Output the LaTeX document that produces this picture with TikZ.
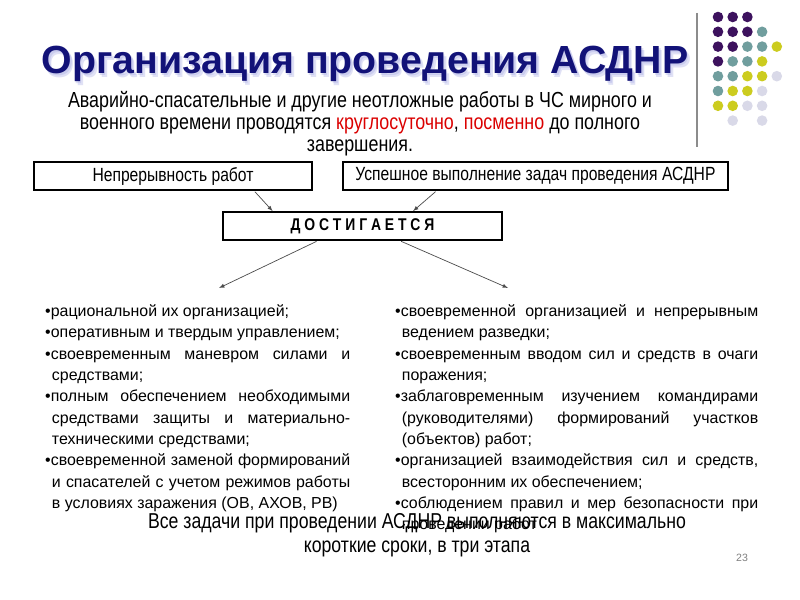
\documentclass[tikz,border=0pt]{standalone}
\usepackage{fontspec}
\setmainfont{Liberation Sans}
\newfontfamily\narrowfont[FakeStretch=0.82]{Liberation Sans}
\usetikzlibrary{arrows,calc}
\tikzset{>=latex}
\definecolor{titleblue}{rgb}{0.07, 0.07, 0.47}
\definecolor{glowblue}{rgb}{0.6, 0.62, 0.88}
\definecolor{alarmred}{rgb}{0.86, 0, 0}
\definecolor{linegray}{rgb}{0.55, 0.55, 0.55}
\definecolor{arrowgray}{rgb}{0.3, 0.3, 0.3}
\definecolor{dotp}{rgb}{0.24, 0.07, 0.37}
\definecolor{dott}{rgb}{0.44, 0.62, 0.62}
\definecolor{doty}{rgb}{0.8, 0.8, 0.12}
\definecolor{dotl}{rgb}{0.85, 0.85, 0.91}
\tikzset{taskbox/.style={draw, line width=1.5pt, inner sep=0pt,
    minimum height=0.84cm, font=\narrowfont\fontsize{16.3}{18}\selectfont}}
\tikzset{bullets/.style={anchor=north west, inner sep=0pt, align=justify,
    font=\fontsize{13.6}{18.2}\selectfont}}
\tikzset{flow/.style={->, arrowgray, line width=0.6pt, shorten <=1pt}}
\newcommand{\itm}{\par\noindent\hangindent=0.42em\hangafter=1 •}

\begin{document}
\begin{tikzpicture}[x=0.03cm, y=-0.03cm]
                \fill[white] (0, 0) rectangle (800, 600);%
                \useasboundingbox (0, 0) rectangle (800, 600);%
                % decoration at the upper right
                \draw[linegray, line width=1.5pt] (697, 13) -- (697, 147);%
                \foreach \r/\row in {0/{p,p,p}, 1/{p,p,p,t}, 2/{p,p,t,t,y}, 3/{p,t,t,y},
                    4/{t,t,y,y,l}, 5/{t,y,y,l}, 6/{y,y,l,l}}
                  \foreach \c [count=\i from 0] in \row
                    \fill[dot\c] (718 + 14.7*\i, 17 + 14.8*\r) circle (5.3);%
                \fill[dotl] (732.7, 120.6) circle (5.3);%
                \fill[dotl] (762.1, 120.6) circle (5.3);%
                % title with its glow
                \foreach \d in {1.5, 3}
                  \node[anchor=base, glowblue, opacity=0.3, font=\bfseries\fontsize{33.5}{38}\selectfont]
                    at (365 + \d, 73.5 + 1.3*\d) {Организация проведения АСДНР};%
                \node (title) [anchor=base, titleblue, font=\bfseries\fontsize{33.5}{38}\selectfont]
                  at (365, 73.5) {Организация проведения АСДНР};%
                \node (lead) [anchor=north, inner sep=0pt, align=center,
                  font=\narrowfont\fontsize{18.6}{18.8}\selectfont] at (360, 91)
                  {Аварийно-спасательные и другие неотложные работы в ЧС мирного и\\
                   военного времени проводятся \textcolor{alarmred}{круглосуточно}, \textcolor{alarmred}{посменно} до полного\\
                   завершения.};%
                % boxes
                \node (cont) [taskbox, minimum width=8.34cm] at (173, 176) {Непрерывность работ};%
                \node (done) [taskbox, minimum width=11.55cm] at (535.5, 176) {Успешное выполнение задач проведения АСДНР};%
                \node (goal) [taskbox, minimum width=8.37cm] at (362.5, 226)
                  {\bfseries\fontsize{14.5}{16}\selectfont Д О С Т И Г А Е Т С Я};%
                \coordinate (lend) at (219, 288);%
                \coordinate (rend) at (508, 288);%
                \draw[flow] ($(cont.south west)!0.79!(cont.south east)$) -- ($(goal.north west)!0.18!(goal.north east)$);%
                \draw[flow] ($(done.south west)!0.244!(done.south east)$) -- ($(goal.north west)!0.68!(goal.north east)$);%
                \draw[flow] ($(goal.south west)!0.34!(goal.south east)$) -- (lend);%
                \draw[flow] ($(goal.south west)!0.634!(goal.south east)$) -- (rend);%
                % the two lists
                \node (left) [bullets, text width=9.15cm] at (45, 295)
                  {\itm рациональной их организацией;
                   \itm оперативным и твердым управлением;
                   \itm своевременным маневром силами и\linebreak средствами;
                   \itm полным обеспечением необходимыми\linebreak средствами защиты и материально-\linebreak техническими средствами;
                   \itm своевременной заменой формирований\linebreak и спасателей с учетом режимов работы\linebreak в условиях заражения (ОВ, АХОВ, РВ)\par};%
                \node (right) [bullets, text width=10.89cm] at (395, 295)
                  {\itm своевременной организацией и непрерывным\linebreak ведением разведки;
                   \itm своевременным вводом сил и средств в очаги\linebreak поражения;
                   \itm заблаговременным изучением командирами\linebreak (руководителями) формирований участков\linebreak (объектов) работ;
                   \itm организацией взаимодействия сил и средств,\linebreak всесторонним их обеспечением;
                   \itm соблюдением правил и мер безопасности при\linebreak проведении работ\par};%
                \node (summary) [anchor=north, inner sep=0pt, align=center,
                  font=\narrowfont\fontsize{18.4}{20.5}\selectfont] at (417, 513)
                  {Все задачи при проведении АСДНР выполняются в максимально\\
                   короткие сроки, в три этапа};%
                \node (page) [gray, font=\fontsize{9}{10}\selectfont] at (742, 558) {23};%
              \end{tikzpicture}
\end{document}
